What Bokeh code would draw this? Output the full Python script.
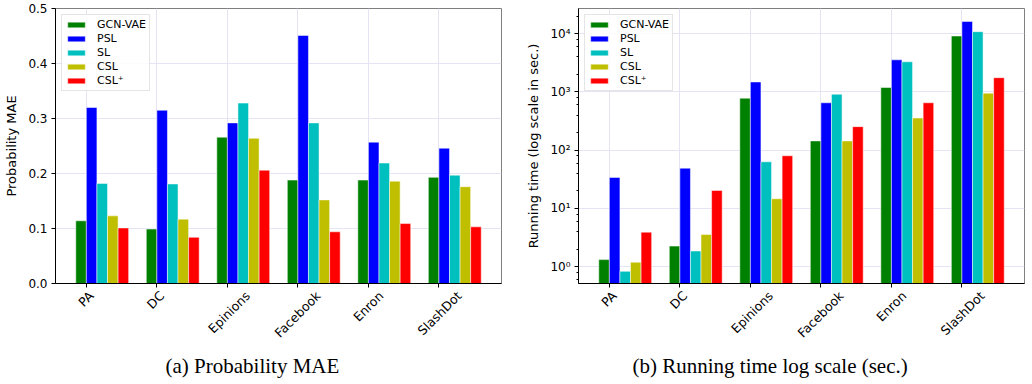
import numpy as np
from bokeh.plotting import figure
from bokeh.layouts import row
from bokeh.models import (FixedTicker, LogTicker, Legend, LegendItem, Title,
                          NumeralTickFormatter, Range1d, ColumnDataSource)
from bokeh.embed import file_html
from bokeh.resources import INLINE

# ---------------- data ----------------
datasets = ["PA", "DC", "Epinions", "Facebook", "Enron", "SlashDot"]
methods = ["GCN-VAE", "PSL", "SL", "CSL", "CSL\u207a"]
colors = ["#008000", "#0000ff", "#00bfbf", "#bfbf00", "#ff0000"]

mae_gcn_vae = [0.114, 0.099, 0.266, 0.188, 0.188, 0.193]
mae_psl = [0.320, 0.315, 0.292, 0.451, 0.257, 0.246]
mae_sl = [0.182, 0.181, 0.328, 0.292, 0.219, 0.197]
mae_csl = [0.123, 0.117, 0.264, 0.152, 0.186, 0.176]
mae_csl_plus = [0.101, 0.084, 0.206, 0.094, 0.109, 0.103]

time_gcn_vae = [1.32, 2.25, 780, 144, 1190, 9100]
time_psl = [34, 49, 1480, 650, 3550, 16200]
time_sl = [0.83, 1.85, 63, 910, 3290, 10800]
time_csl = [1.19, 3.56, 14.6, 144, 356, 950]
time_csl_plus = [3.9, 20.3, 80, 253, 650, 1750]

log_tick_labels = {1: "10\u2070", 10: "10\u00b9", 100: "10\u00b2", 1000: "10\u00b3", 10000: "10\u2074"}

# ---------------- styling ----------------
BAR_W = 0.15
FONT = "DejaVu Sans"
GRID = "#e4e4f4"
PX_PER_UNIT = 70.6


def make_fig(series, ylabel, caption, log, y_range, min_left, min_top, cap_left):
    idx = np.arange(len(datasets))
    p = figure(width=516, height=384, output_backend="svg", toolbar_location=None,
               x_range=Range1d(-0.4375, 5.8875), y_range=y_range,
               y_axis_type="log" if log else "linear",
               min_border_left=min_left, min_border_right=516 - min_left - 446,
               min_border_top=min_top, min_border_bottom=101)
    p.background_fill_color = "white"
    p.border_fill_color = "white"
    p.outline_line_color = "#7f7f7f"
    p.outline_line_width = 1

    items = []
    bottom = 0.01 if log else 0
    for k, (name, vals, col) in enumerate(zip(methods, series, colors)):
        src = ColumnDataSource(dict(x=idx + (k - 0.5) * BAR_W, top=vals))
        r = p.vbar(x="x", top="top", bottom=bottom, width=BAR_W, source=src,
                   fill_color=col, line_color="white", line_width=0.5)
        items.append(LegendItem(label=name, renderers=[r]))

    # x axis: labels shifted so that each rotated label box is centred on its tick
    xa = p.xaxis[0]
    shifts = [0.354 * 7.2 * len(n) / PX_PER_UNIT for n in datasets]
    label_pos = [float(i + s) for i, s in zip(idx, shifts)]
    xa.ticker = FixedTicker(ticks=label_pos, minor_ticks=[float(i) for i in idx])
    xa.major_label_overrides = {t: n for t, n in zip(label_pos, datasets)}
    xa.major_label_orientation = np.pi / 4
    xa.major_tick_line_color = None
    xa.major_tick_out = 4
    xa.major_tick_in = 0
    xa.minor_tick_line_color = "black"
    xa.minor_tick_out = 4
    xa.minor_tick_in = 0
    xa.major_label_standoff = 6
    xa.major_label_text_font = FONT
    xa.major_label_text_font_size = "12.5px"
    xa.major_label_text_color = "black"
    xa.axis_line_color = "black"
    p.xgrid.ticker = FixedTicker(ticks=[float(i) for i in idx])
    p.xgrid.grid_line_color = GRID

    ya = p.yaxis[0]
    if log:
        ya.ticker = LogTicker()
        ya.major_label_overrides = log_tick_labels
        ya.minor_tick_line_color = "black"
        ya.minor_tick_out = 2
        ya.minor_tick_in = 0
    else:
        ya.ticker = FixedTicker(ticks=[0.0, 0.1, 0.2, 0.3, 0.4, 0.5])
        ya.formatter = NumeralTickFormatter(format="0.0")
        ya.minor_tick_line_color = None
    ya.major_tick_out = 4
    ya.major_tick_in = 0
    ya.major_tick_line_color = "black"
    ya.axis_line_color = "black"
    ya.major_label_standoff = 4
    ya.major_label_text_font = FONT
    ya.major_label_text_font_size = "12px"
    ya.major_label_text_color = "black"
    ya.axis_label = ylabel
    ya.axis_label_text_font = FONT
    ya.axis_label_text_font_size = "13px"
    ya.axis_label_text_font_style = "normal"
    ya.axis_label_text_color = "black"
    ya.axis_label_standoff = 6
    p.ygrid.grid_line_color = GRID

    legend = Legend(items=items, location="top_left", margin=6, padding=3,
                    spacing=1, label_height=12, glyph_height=7, glyph_width=22,
                    label_standoff=10, label_text_font=FONT,
                    label_text_font_size="11px", label_text_color="black",
                    border_line_color="#cccccc", border_line_width=1,
                    background_fill_color="white", background_fill_alpha=0.85)
    p.add_layout(legend)

    p.add_layout(Title(text=caption, align="left", offset=cap_left,
                       text_font="Liberation Serif", text_font_size="21px",
                       text_font_style="normal", text_color="black",
                       standoff=6), "below")
    return p


p1 = make_fig([mae_gcn_vae, mae_psl, mae_sl, mae_csl, mae_csl_plus],
              "Probability MAE", "(a)  Probability MAE", False,
              Range1d(0, 0.5), 55, 8, 110)
p2 = make_fig([time_gcn_vae, time_psl, time_sl, time_csl, time_csl_plus],
              "Running time (log scale in sec.)", "(b)  Running time log scale (sec.)", True,
              Range1d(0.513, 27000), 62, 6, 54)

layout = row(p1, p2)
open("out.html", "w").write(file_html(layout, INLINE))
